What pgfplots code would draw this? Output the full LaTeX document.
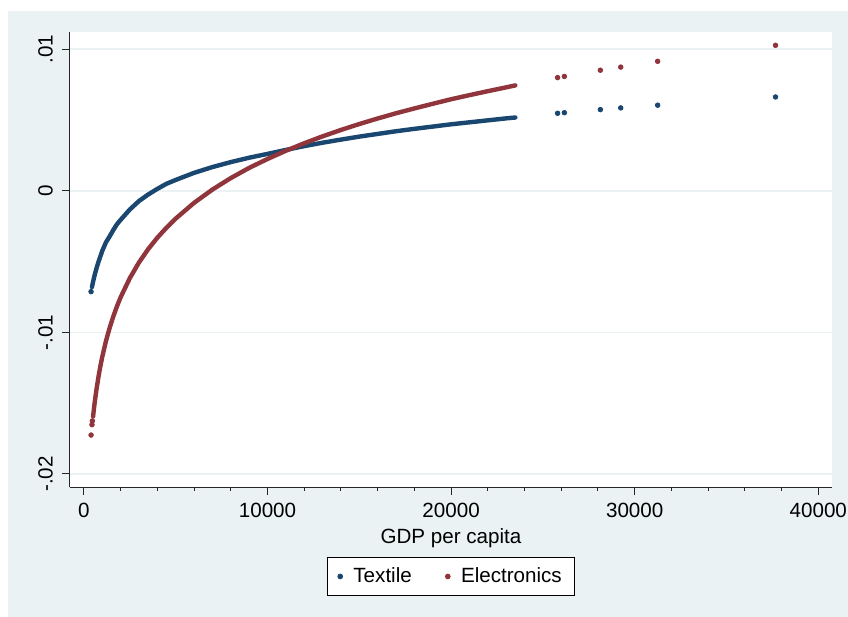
\documentclass[border=0pt]{standalone}
\usepackage{fontspec}
\setmainfont{Liberation Sans}
\usepackage{pgfplots}
\pgfplotsset{compat=1.18}
\definecolor{stnavy}{RGB}{26,71,111}
\definecolor{stmaroon}{RGB}{144,53,59}
\definecolor{stbg}{RGB}{234,242,243}
\newcommand{\chartfont}{\fontsize{10.3}{12}\selectfont}

\begin{document}
\begin{tikzpicture}[font=\chartfont]
\useasboundingbox (-35pt,-65pt) rectangle (389pt,243.5pt);
\fill[white] (-35pt,-65pt) rectangle (389pt,243.5pt);
\fill[stbg] (-31pt,-65pt) rectangle (389pt,238pt);
\begin{axis}[
  at={(0pt,0pt)}, anchor=south west, scale only axis,
  width=381pt, height=227.5pt,
  xmin=-757, xmax=40746, ymin=-0.02092, ymax=0.01122,
  scaled ticks=false,
  axis background/.style={fill=white},
  axis x line*=bottom, axis y line*=left,
  axis line style={-, line width=0.5pt, black!85},
  xtick={0,10000,20000,30000,40000},
  xticklabels={0,10000,20000,30000,40000},
  minor x tick num=4,
  ytick={-0.02,-0.01,0,0.01},
  yticklabels={-.02,-.01,0,.01},
  tick align=outside, major tick length=4pt, minor tick length=1.8pt,
  tick style={black!85, line width=0.5pt},
  ymajorgrids, grid style={stbg, line width=0.8pt},
  tick label style={font=\chartfont},
  xticklabel style={anchor=north, inner sep=0pt},
  xticklabel shift=4pt,
  yticklabel style={rotate=90, anchor=south, inner sep=0pt},
  yticklabel shift=4.35pt,
  xlabel={GDP per capita},
  every axis x label/.style={at={(axis description cs:0.5,0)}, anchor=north,
    yshift=-20.5pt, inner sep=0pt, font=\chartfont},
  legend columns=2,
  legend style={at={(axis description cs:0.5,0)}, anchor=north, yshift=-35pt,
    draw=black, line width=0.5pt, fill=white, font=\chartfont,
    inner xsep=4.5pt, inner ysep=3pt,
    /tikz/every even column/.append style={column sep=14pt}},
  legend image code/.code={\draw[#1] plot coordinates {(2pt,0pt)};
    \path[draw=none, fill=none] (0pt,0pt) -- (6.6pt,0pt);},
]
\addplot[only marks, mark=*, mark size=1.15pt, color=stnavy] coordinates {
  (390,-0.00712)(25800,0.00548)(26170,0.00552)(28130,0.00574)
  (29240,0.00586)(31250,0.00605)(37670,0.00663)
};
\addlegendentry{Textile}
\addplot[forget plot, stnavy, line width=2.2pt, line cap=round, line join=round] coordinates {
  (440,-0.00680)(470,-0.00660)(500,-0.00643)(550,-0.00614)(600,-0.00588)
  (700,-0.00541)(800,-0.00499)(900,-0.00462)(1000,-0.00424)(1200,-0.00364)
  (1400,-0.00322)(1600,-0.00277)(1800,-0.00236)(2000,-0.00205)(2500,-0.00132)
  (3000,-0.00072)(3500,-0.00026)(4000,0.00014)(4500,0.00050)(5000,0.00077)
  (6000,0.00127)(7000,0.00168)(8000,0.00203)(9000,0.00234)(10000,0.00261)
  (11000,0.00289)(12000,0.00316)(13000,0.00340)(14000,0.00362)(15000,0.00383)
  (16000,0.00402)(17000,0.00421)(18000,0.00438)(19000,0.00454)(20000,0.00470)
  (21000,0.00484)(22000,0.00498)(23000,0.00512)(23500,0.00518)
};
\addplot[only marks, mark=*, mark size=1.15pt, color=stmaroon] coordinates {
  (390,-0.01725)(440,-0.01652)(460,-0.01625)(25800,0.00800)(26170,0.00808)
  (28130,0.00852)(29240,0.00874)(31250,0.00915)(37670,0.01028)
};
\addlegendentry{Electronics}
\addplot[forget plot, stmaroon, line width=2.2pt, line cap=round, line join=round] coordinates {
  (500,-0.01594)(550,-0.01536)(600,-0.01483)(700,-0.01390)(800,-0.01309)
  (900,-0.01237)(1000,-0.01173)(1200,-0.01062)(1400,-0.00969)(1600,-0.00888)
  (1800,-0.00816)(2000,-0.00752)(2500,-0.00617)(3000,-0.00506)(3500,-0.00412)
  (4000,-0.00331)(4500,-0.00260)(5000,-0.00196)(6000,-0.00085)(7000,0.00009)
  (8000,0.00090)(9000,0.00162)(10000,0.00225)(11000,0.00283)(12000,0.00336)
  (13000,0.00385)(14000,0.00430)(15000,0.00472)(16000,0.00511)(17000,0.00548)
  (18000,0.00582)(19000,0.00615)(20000,0.00647)(21000,0.00676)(22000,0.00704)
  (23000,0.00731)(23500,0.00745)
};
\end{axis}
\end{tikzpicture}
\end{document}
